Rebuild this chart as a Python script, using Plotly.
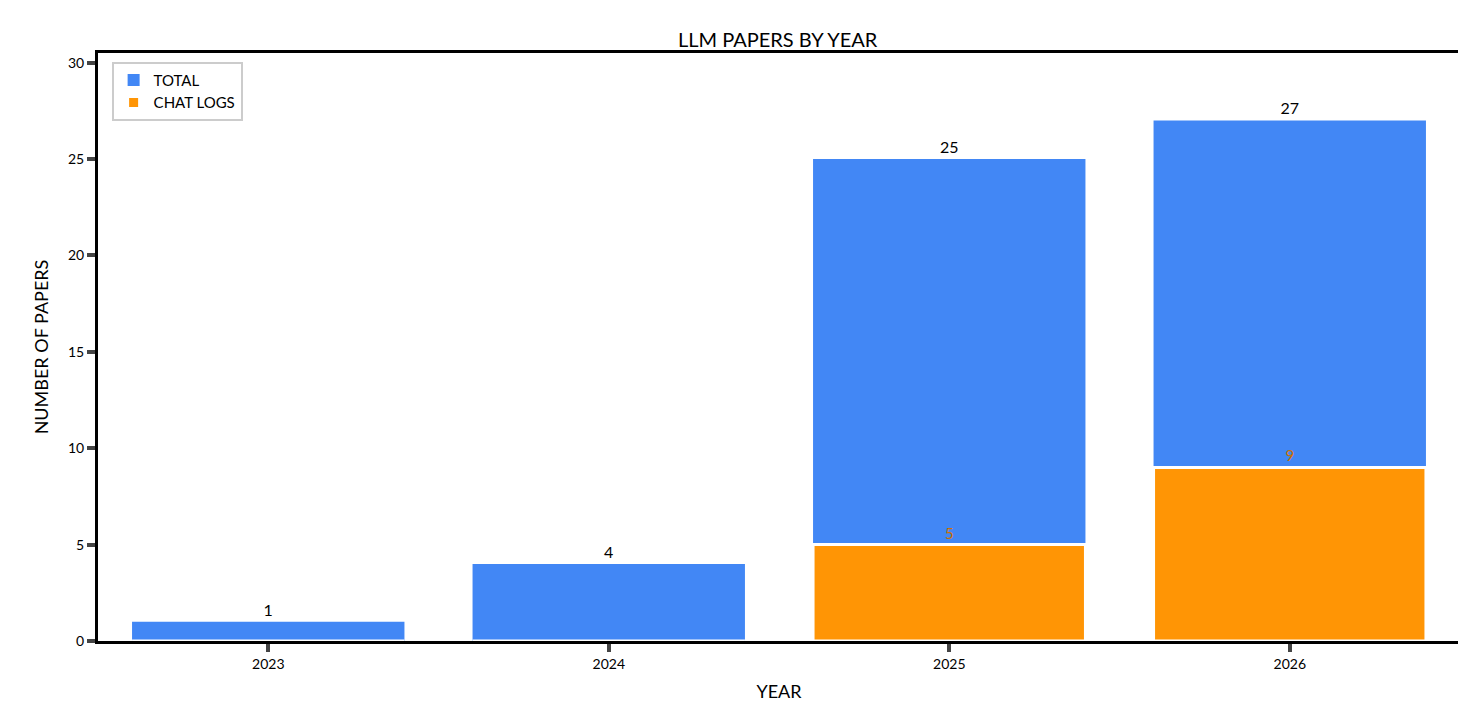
import plotly.graph_objects as go

years = ["2023", "2024", "2025", "2026"]
total = [1, 4, 25, 27]
chat_logs = [0, 0, 5, 9]

font = "Comic Sans MS, Lato, sans-serif"

fig = go.Figure()
fig.add_trace(go.Bar(x=years, y=total, name="TOTAL", marker_color="#4287f5",
                     marker_line_width=0, width=0.8,
                     text=[str(v) for v in total], textposition="outside",
                     textfont=dict(size=16, color="black")))
chat_text = [str(v) if v else "" for v in chat_logs]
fig.add_trace(go.Bar(x=years, y=chat_logs, name="CHAT LOGS", marker_color="#ff9505",
                     marker_line=dict(color="white", width=3), width=0.8,
                     text=chat_text, textposition="outside", cliponaxis=False,
                     textfont=dict(size=15, color="#cc7000")))

fig.update_layout(
    barmode="overlay",
    width=1466, height=717,
    plot_bgcolor="white", paper_bgcolor="white",
    font=dict(family=font, color="black", size=14),
    title=dict(text="LLM PAPERS BY YEAR", x=0.525, y=0.965, font=dict(size=20)),
    margin=dict(l=90, r=14, t=45, b=84),
    showlegend=True,
    legend=dict(x=0.01, y=0.985, bgcolor="white", bordercolor="#cccccc", borderwidth=2,
                font=dict(size=15)),
    bargap=0.2,
)
fig.update_xaxes(title=dict(text="YEAR", font=dict(size=18)), showline=True, linewidth=3,
                 linecolor="black", mirror=True, ticks="outside", ticklen=8, tickwidth=4,
                 showgrid=False)
fig.update_yaxes(title=dict(text="NUMBER OF PAPERS", font=dict(size=18)), range=[0, 30.5],
                 dtick=5, showline=True, linewidth=3, linecolor="black", mirror=True,
                 ticks="outside", ticklen=8, tickwidth=4, showgrid=False, zeroline=False)
fig.write_html("out.html")
